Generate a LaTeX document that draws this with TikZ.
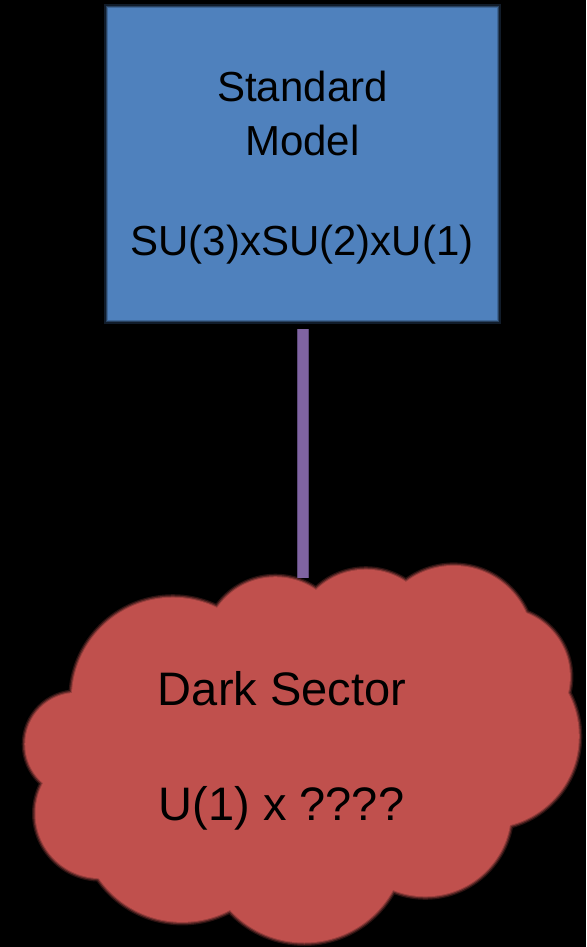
\documentclass[tikz,border=0pt]{standalone}
\usepackage{fontspec}
\setmainfont{Liberation Sans}
\definecolor{smblue}{HTML}{4F81BD}
\definecolor{dsred}{HTML}{C0504D}
\definecolor{linkpurple}{HTML}{8064A2}
\definecolor{linkedge}{HTML}{5E4A7A}
\pgfdeclarelayer{backdrop}
\pgfdeclarelayer{halo}
\pgfsetlayers{backdrop,halo,main}
\begin{document}
\begin{tikzpicture}[x=1pt,y=-1pt,
  boxtext/.style={font=\fontsize{42}{50}\selectfont, anchor=base, inner sep=0pt, text=black},
  cloudtext/.style={font=\fontsize{47}{56}\selectfont, anchor=base, inner sep=0pt, text=black},
  smbox/.style={fill=smblue, minimum width=389pt, minimum height=312pt, inner sep=0pt},
  link/.style={draw=linkedge, line width=1pt, double=linkpurple, double distance=10pt},
  glowA/.style={line width=7pt},
  glowB/.style={line width=4.5pt},
  glowC/.style={line width=2pt}]
\begin{pgfonlayer}{backdrop}
  \fill[black] (0,0) rectangle (586,947);
\end{pgfonlayer}
\useasboundingbox (0,0) rectangle (586,947);

% Standard Model box, with a soft fringe behind it
\node[smbox] (sm) at (302.5,164) {};
\begin{pgfonlayer}{halo}
  \draw[glowA, smblue!22!black] (sm.south west) rectangle (sm.north east);
  \draw[glowB, smblue!50!black] (sm.south west) rectangle (sm.north east);
  \draw[glowC, smblue!80!black] (sm.south west) rectangle (sm.north east);
\end{pgfonlayer}

% Dark sector cloud: each puff is a circle through two neighbouring notches
\def\puffs{172.8/698.7/101, 275.4/647.9/70.7, 365.9/641.2/71.5,
  453.7/645/79.1, 501.3/677/68.6, 487/736.2/91.8, 425.3/810.4/85.9,
  304.3/841.4/101.1, 182.2/820.4/101.5, 100.2/813.4/64.7, 76.6/744.2/51.4}
\fill[dsred] (217,608) -- (316,590) -- (406,582) -- (526,613) -- (568,693)
  -- (510,825) -- (393,890) -- (230,910) -- (97,878) -- (43,783) -- (72,693) -- cycle;
\foreach \x/\y/\r in \puffs
  \fill[dsred] (\x,\y) circle[radius=\r pt];
\begin{pgfonlayer}{halo}
  \draw[glowA, dsred!22!black] \foreach \x/\y/\r in \puffs {(\x,\y) circle[radius=\r pt]};
  \draw[glowB, dsred!50!black] \foreach \x/\y/\r in \puffs {(\x,\y) circle[radius=\r pt]};
  \draw[glowC, dsred!80!black] \foreach \x/\y/\r in \puffs {(\x,\y) circle[radius=\r pt]};
\end{pgfonlayer}
\coordinate (dstop) at (302.5,585);

% connector
\draw[link, shorten <=9pt, shorten >=7pt] (sm.south) -- (dstop);

% labels
\node[boxtext] (t1) at (302.5,102) {Standard};
\node[boxtext] (t2) at (302.5,155) {Model};
\node[boxtext] (t3) at (302,255) {SU(3)xSU(2)xU(1)};
\node[cloudtext] (d1) at (282,705) {Dark Sector};
\node[cloudtext] (d2) at (281.5,820) {U(1) x ????};
\end{tikzpicture}
\end{document}
